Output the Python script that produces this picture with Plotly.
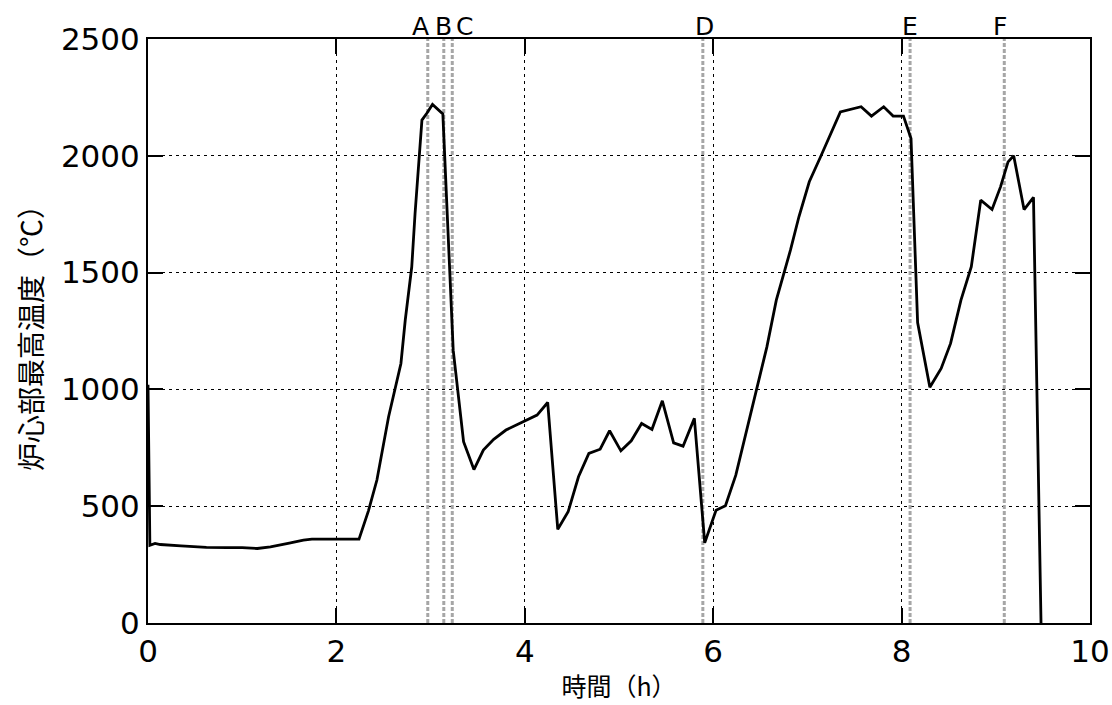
import plotly.graph_objects as go

time_h = [0.0, 0.02, 0.075, 0.13, 0.35, 0.62, 0.84, 1.0, 1.16, 1.30, 1.50, 1.65, 1.74, 2.24,
          2.34, 2.43, 2.554, 2.685, 2.731, 2.80, 2.835, 2.908, 2.96, 3.02, 3.13, 3.24,
          3.35, 3.46, 3.56, 3.67, 3.80, 3.95, 4.13, 4.243, 4.35, 4.46, 4.57, 4.68, 4.80,
          4.90, 5.02, 5.13, 5.24, 5.35, 5.46, 5.58, 5.68, 5.80, 5.91, 6.03, 6.13, 6.24,
          6.43, 6.57, 6.67, 6.82, 6.91, 7.02, 7.14, 7.35, 7.57, 7.68, 7.81, 7.91, 8.02,
          8.10, 8.17, 8.30, 8.42, 8.52, 8.63, 8.74, 8.84, 8.96, 9.05, 9.13, 9.19, 9.30,
          9.40, 9.48]
temp_c = [1020, 333, 341, 336, 330, 324, 323, 323, 319, 326, 342, 355, 359, 359,
          480, 612, 883, 1111, 1297, 1525, 1753, 2153, 2182, 2220, 2179, 1168,
          776, 657, 740, 786, 826, 855, 890, 944, 401, 476, 626, 726, 744,
          823, 737, 780, 854, 829, 951, 771, 757, 876, 343, 483, 502, 633,
          954, 1182, 1382, 1596, 1739, 1889, 1996, 2188, 2210, 2170, 2210, 2170, 2170,
          2074, 1286, 1009, 1090, 1197, 1382, 1525, 1810, 1770, 1867, 1974, 2000, 1770,
          1822, 0]

event_labels = ["A", "B", "C", "D", "E", "F"]
event_times = [2.97, 3.14, 3.23, 5.89, 8.09, 9.09]
label_shift = [-7, 0, 12, 2, 0, -4]

x_ticks = [0, 2, 4, 6, 8, 10]
y_ticks = [0, 500, 1000, 1500, 2000, 2500]

font_family = "DejaVu Sans, Noto Sans CJK JP"
cjk_family = "Noto Sans CJK JP, DejaVu Sans"

fig = go.Figure()

for t in event_times:
    fig.add_trace(go.Scatter(
        x=[t, t], y=[0, 2500], mode="lines",
        line=dict(color="#a6a6a6", width=3, dash="4px,2px"),
        hoverinfo="skip", showlegend=False))

fig.add_trace(go.Scatter(
    x=time_h, y=temp_c, mode="lines",
    line=dict(color="black", width=2.8),
    showlegend=False))

for lab, t, s in zip(event_labels, event_times, label_shift):
    fig.add_annotation(x=t, y=1, xref="x", yref="paper", text=lab,
                       showarrow=False, yanchor="bottom", xanchor="center",
                       xshift=s, yshift=-4,
                       font=dict(size=25, color="black", family=font_family))

axis_common = dict(
    showline=True, linecolor="black", linewidth=2, mirror="ticks",
    ticks="inside", ticklen=15, tickwidth=2, tickcolor="black",
    showgrid=True, gridcolor="black", gridwidth=1, griddash="3px,4px",
    zeroline=False, automargin=False,
    tickfont=dict(size=31, color="black", family=font_family),
)

fig.update_xaxes(range=[0, 10], tickvals=x_ticks, ticktext=[str(v) for v in x_ticks],
                 title=dict(text="時間（h）", font=dict(size=25, color="black", family=cjk_family),
                            standoff=10),
                 **axis_common)
fig.update_yaxes(range=[0, 2500], tickvals=y_ticks, ticktext=[str(v) for v in y_ticks],
                 title=dict(text="炉心部最高温度（℃）", font=dict(size=28, color="black", family=cjk_family),
                            standoff=10),
                 **axis_common)

fig.update_layout(
    width=1112, height=705,
    margin=dict(l=148, r=22, t=39, b=82),
    plot_bgcolor="white", paper_bgcolor="white",
    font=dict(family=font_family, color="black"),
)

fig.write_html("out.html")
